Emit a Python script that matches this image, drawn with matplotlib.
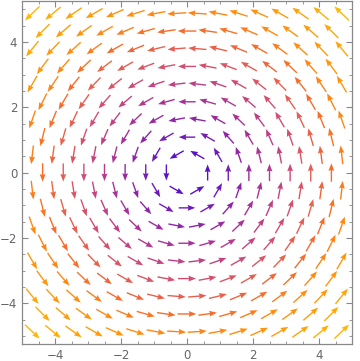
import numpy as np
import matplotlib.pyplot as plt
from matplotlib.colors import LinearSegmentedColormap

# hexagonal sample grid used by the vector plot
x_step = 0.625
row_ids = list(range(-9, 10))
field = lambda x, y: (-y, x)   # rotational field

# colour stops (fraction of max magnitude -> colour)
color_stops = [0.0, 0.09, 0.28, 0.46, 0.55, 0.65, 0.74, 1.0]
color_hex = ["#4a10d0", "#5812c4", "#9a2aa0", "#cc4a78", "#e25c58",
             "#f76e28", "#ff8a10", "#ffb800"]

xs, ys = [], []
dy = x_step * np.sqrt(3) / 2
for k in row_ids:
    off = x_step / 2 if k % 2 else 0.0
    n = int((5 - off) / x_step + 1e-9)
    for j in range(-n - (1 if off else 0), n + 1):
        x = j * x_step + off
        if abs(x) < 4.9:
            xs.append(x)
            ys.append(k * dy)
xs = np.array(xs)
ys = np.array(ys)
u, v = field(xs, ys)
u = np.asarray(u, float)
v = np.asarray(v, float)
mag = np.hypot(u, v)
keep = mag > 1e-9
xs, ys, u, v, mag = xs[keep], ys[keep], u[keep], v[keep], mag[keep]

length = 0.48 + 0.02 * mag
uu = u / mag * length
vv = v / mag * length

cmap = LinearSegmentedColormap.from_list("mma", list(zip(color_stops, color_hex)))

fig = plt.figure(figsize=(3.6, 3.61), dpi=100)
ax = fig.add_axes([22 / 360, 17 / 361, 330 / 360, 343 / 361])
ax.quiver(xs, ys, uu, vv, mag / mag.max(), cmap=cmap, clim=(0, 1),
          angles="xy", scale_units="xy", scale=1, pivot="middle",
          width=0.0042, headwidth=4.2, headlength=5.5, headaxislength=5)

ax.set_xlim(-5, 5)
ax.set_ylim(-5.25, 5.25)
ax.set_xticks([-4, -2, 0, 2, 4])
ax.set_yticks([-4, -2, 0, 2, 4])
ax.set_xticklabels(["\u22124", "\u22122", "0", "2", "4"])
ax.set_yticklabels(["\u22124", "\u22122", "0", "2", "4"])
ax.set_xticks(np.arange(-5, 5.01, 0.5), minor=True)
ax.set_yticks(np.arange(-5, 5.01, 0.5), minor=True)
ax.tick_params(which="both", direction="in", top=True, right=True,
               color="#888888", labelcolor="#666666", labelsize=8.5)
ax.tick_params(which="major", length=4.5, width=0.8)
ax.tick_params(which="minor", length=2.5, width=0.6)
for s in ax.spines.values():
    s.set_color("#888888")
    s.set_linewidth(0.9)

fig.savefig("out.png", dpi=100)
